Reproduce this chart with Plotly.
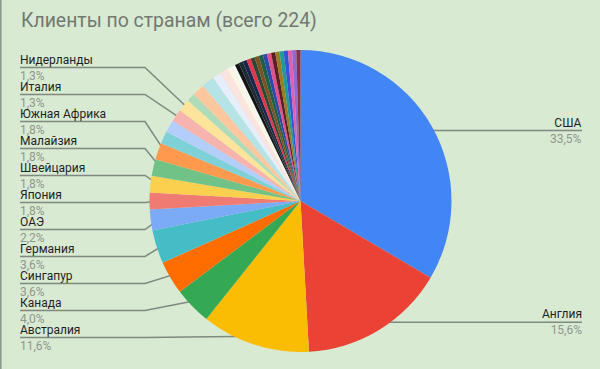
import math
import plotly.graph_objects as go

# ---------------- data ----------------
countries = [
    "США", "Англия", "Австралия", "Канада", "Сингапур", "Германия", "ОАЭ",
    "Япония", "Швейцария", "Малайзия", "Южная Африка", "Страна 12", "Страна 13",
    "Италия", "Нидерланды",
    "Страна 16", "Страна 17", "Страна 18", "Страна 19", "Страна 20", "Страна 21", "Страна 22",
    "Страна 23", "Страна 24", "Страна 25", "Страна 26", "Страна 27", "Страна 28",
    "Страна 29", "Страна 30", "Страна 31", "Страна 32", "Страна 33", "Страна 34",
    "Страна 35", "Страна 36", "Страна 37", "Страна 38",
]
clients = [
    75, 35, 26, 9, 8, 8, 5,
    4, 4, 4, 4, 3, 3,
    3, 3,
    2, 3, 3, 2, 2, 1, 1,
    1, 1, 1, 1, 1, 1,
    1, 1, 1, 1, 1, 1,
    1, 1, 1, 1,
]
slice_colors = [
    "#4285F4", "#EA4335", "#FBBC04", "#34A853", "#FF6D01", "#46BDC6", "#7BAAF7",
    "#F07B72", "#FCD04F", "#71C287", "#FF994D", "#7ED1D7", "#B3CEFB",
    "#F7B4AE", "#FDE49B",
    "#AEDCBA", "#FFC79E", "#B5E3E6", "#E6EEFB", "#FBE3E0", "#FCF6E2", "#F4F8F2",
    "#141414", "#1E2B33", "#1B2550", "#E0364E", "#2E4634", "#7A5224",
    "#1F5E47", "#2E48A8", "#E0508A", "#5A1E24", "#9A7A22", "#1F9A98",
    "#3A50D8", "#E060B0", "#9068D0", "#8A3040",
]
left_labels = ["Нидерланды", "Италия", "Южная Африка", "Малайзия", "Швейцария",
               "Япония", "ОАЭ", "Германия", "Сингапур", "Канада", "Австралия"]
right_labels = ["США", "Англия"]
title_text = "Клиенты по странам (всего 224)"

total = sum(clients)

# ---------------- layout constants (pixels) ----------------
W, H = 600, 369
CX, CY, R = 300.5, 201.0, 151.0
ANCHOR_R = 0.94 * R
LEFT_X, KNEE_X = 20, 145
RIGHT_X = 582
ROW0, ROW_STEP = 67.5, 27.0   # y of the horizontal leader line under each left label
LINE_COL = "#7f897f"
PCT_COL = "#8d978d"
NAME_COL = "#1f1f1f"
BG = "#D9EAD3"


def pct(v):
    return f"{v / total * 100:.1f}".replace(".", ",") + "%"


def label_html(name):
    return f"{name}<br><span style='color:{PCT_COL}'>{pct(value_of[name])}</span>"


# mid angle of each slice (clockwise from 12 o'clock) -> anchor pixel point
anchors = {}
cum = 0
for name, v in zip(countries, clients):
    mid = (cum + v / 2) / total * 2 * math.pi
    anchors[name] = (CX + ANCHOR_R * math.sin(mid), CY - ANCHOR_R * math.cos(mid))
    cum += v
value_of = dict(zip(countries, clients))

fig = go.Figure()
fig.add_trace(go.Pie(
    labels=countries, values=clients, sort=False, direction="clockwise",
    marker=dict(colors=slice_colors, line=dict(width=0)),
    textinfo="none", showlegend=False,
    domain=dict(x=[(CX - R) / W, (CX + R) / W], y=[1 - (CY + R) / H, 1 - (CY - R) / H]),
))

annotations = []
lx, ly = [], []
dots_x, dots_y = [], []
for i, name in enumerate(left_labels):
    line_y = ROW0 + i * ROW_STEP
    ax, ay = anchors[name]
    lx += [LEFT_X, KNEE_X, ax, None]
    ly += [line_y, line_y, ay, None]
    dots_x.append(ax); dots_y.append(ay)
    annotations.append(dict(x=LEFT_X - 1, y=line_y, text=label_html(name), xref="x", yref="y",
                            showarrow=False, xanchor="left", yanchor="middle", align="left",
                            borderpad=0,
                            font=dict(family="Roboto", size=12, color=NAME_COL)))

for name in right_labels:
    ax, ay = anchors[name]
    lx += [ax, RIGHT_X, None]
    ly += [ay, ay, None]
    dots_x.append(ax); dots_y.append(ay)
    annotations.append(dict(x=RIGHT_X + 1, y=ay, text=label_html(name), xref="x", yref="y",
                            showarrow=False, xanchor="right", yanchor="middle", align="right",
                            borderpad=0,
                            font=dict(family="Roboto", size=12, color=NAME_COL)))

fig.add_trace(go.Scatter(x=lx, y=ly, mode="lines", line=dict(color=LINE_COL, width=1.5),
                         hoverinfo="skip", showlegend=False))
fig.add_trace(go.Scatter(x=dots_x, y=dots_y, mode="markers", marker=dict(color=LINE_COL, size=4),
                         hoverinfo="skip", showlegend=False))

annotations.append(dict(x=19, y=20, text=title_text, xref="x", yref="y", showarrow=False,
                        xanchor="left", yanchor="middle",
                        font=dict(family="Roboto", size=19.4, color="#727872")))

fig.update_layout(
    width=W, height=H, margin=dict(l=0, r=0, t=0, b=0),
    paper_bgcolor=BG, plot_bgcolor="rgba(0,0,0,0)",
    xaxis=dict(range=[0, W], visible=False, fixedrange=True, domain=[0, 1]),
    yaxis=dict(range=[H, 0], visible=False, fixedrange=True, domain=[0, 1]),
    annotations=annotations,
    shapes=[dict(type="line", xref="x", yref="y", x0=0.8, x1=0.8, y0=0, y1=H,
                 line=dict(color="#8e988e", width=1.6))],
)

fig.write_html(
    "out.html",
    config={"displayModeBar": False},
    post_script="document.body.style.margin='0';document.body.style.overflow='hidden';"
                "document.documentElement.style.overflow='hidden';",
)
